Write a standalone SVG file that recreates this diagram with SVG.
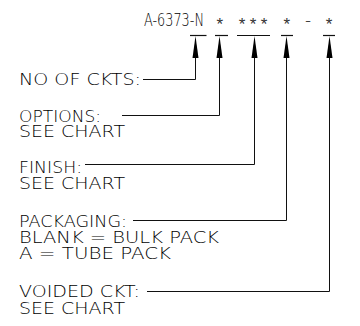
<svg xmlns="http://www.w3.org/2000/svg" width="360" height="326" viewBox="0 0 360 326">
<defs>
<style>
text{font-family:"DejaVu Sans","Liberation Sans",sans-serif;font-weight:200;font-size:15px;fill:#000}
.hd{font-size:17px}
.ast{font-family:"Liberation Sans",sans-serif;font-weight:400;font-size:17px;fill:#333}
.ln{fill:none;stroke:#111;stroke-width:1}
.bar{stroke:#111;stroke-width:1.2}
.ah{fill:#000}
</style>
</defs>
<rect width="360" height="326" fill="#fff"/>
<g id="header">
<text class="hd" x="144" y="25.5" textLength="60" lengthAdjust="spacingAndGlyphs">A-6373-N</text>
<text class="ast" x="216.4" y="30">*</text>
<text class="ast" x="238.7" y="30">*</text>
<text class="ast" x="249.7" y="30">*</text>
<text class="ast" x="260.7" y="30">*</text>
<text class="ast" x="283.4" y="30">*</text>
<text class="hd" x="305" y="25.5">-</text>
<text class="ast" x="325.7" y="30">*</text>
<line class="bar" x1="190" y1="35.5" x2="206.5" y2="35.5"/>
<line class="bar" x1="215" y1="35.5" x2="228" y2="35.5"/>
<line class="bar" x1="237" y1="35.5" x2="270" y2="35.5"/>
<line class="bar" x1="281" y1="35.5" x2="293" y2="35.5"/>
<line class="bar" x1="323" y1="35.5" x2="335" y2="35.5"/>
</g>
<g id="n1"><text x="19" y="85" textLength="122" lengthAdjust="spacingAndGlyphs">NO OF CKTS:</text></g>
<g id="n2"><text x="19" y="122" textLength="82" lengthAdjust="spacingAndGlyphs">OPTIONS:</text><text x="19" y="137" textLength="106" lengthAdjust="spacingAndGlyphs">SEE CHART</text></g>
<g id="n3"><text x="19" y="172.5" textLength="63" lengthAdjust="spacingAndGlyphs">FINISH:</text><text x="19" y="189" textLength="106" lengthAdjust="spacingAndGlyphs">SEE CHART</text></g>
<g id="n4"><text x="19" y="226.5" textLength="108" lengthAdjust="spacingAndGlyphs">PACKAGING:</text><text x="19" y="242.5" textLength="200" lengthAdjust="spacingAndGlyphs">BLANK = BULK PACK</text><text x="19" y="258.5" textLength="152" lengthAdjust="spacingAndGlyphs">A = TUBE PACK</text></g>
<g id="n5"><text x="19" y="297" textLength="121" lengthAdjust="spacingAndGlyphs">VOIDED CKT:</text><text x="19" y="313.5" textLength="106" lengthAdjust="spacingAndGlyphs">SEE CHART</text></g>
<g id="connectors">
<path class="ln" d="M143,79.5 H195.5 V50"/>
<path class="ln" d="M122,115.5 H219.5 V50"/>
<path class="ln" d="M85,164.5 H254.5 V50"/>
<path class="ln" d="M133,220.5 H286.5 V50"/>
<path class="ln" d="M147,291.5 H329.5 V50"/>
<polygon class="ah" points="195.5,36 198.5,58 192.5,58"/>
<polygon class="ah" points="219.5,36 222.5,58 216.5,58"/>
<polygon class="ah" points="254.5,36 257.5,58 251.5,58"/>
<polygon class="ah" points="286.5,36 289.5,58 283.5,58"/>
<polygon class="ah" points="329.5,36 332.5,58 326.5,58"/>
</g>
</svg>
